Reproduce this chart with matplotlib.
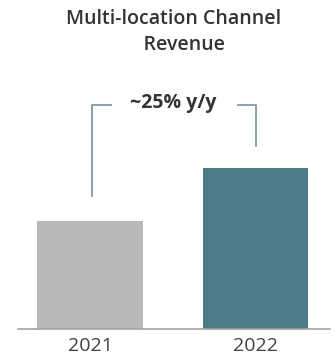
import matplotlib
matplotlib.use("Agg")
import matplotlib.pyplot as plt

years = ["2021", "2022"]
revenue = [1.0, 1.49]
bar_colors = ["#b8b8bb", "#4d7b87"]
growth_label = "~25% y/y"
title = "Multi-location Channel\n    Revenue"

plt.rcParams['font.family'] = ['Open Sans', 'DejaVu Sans']

W, H = 336, 358
fig = plt.figure(figsize=(W / 100, H / 100), dpi=100)
fig.patch.set_facecolor('white')

# axes placed in pixel terms: baseline at y=329, x from 18 to 330
ax = fig.add_axes([18 / W, (H - 329) / H, (330 - 18) / W, (329 - 60) / H])
ax.set_facecolor('none')

x = list(range(len(years)))
ax.bar(x, revenue, width=0.64, color=bar_colors, zorder=2)
ax.set_xlim(-0.435, 1.45)
ax.set_ylim(0, 269 / 108)

ax.set_xticks(x)
ax.set_xticklabels(years, fontsize=14, color='#404040')
ax.tick_params(axis='x', length=0, pad=6)
ax.set_yticks([])
for s in ['top', 'left', 'right']:
    ax.spines[s].set_visible(False)
ax.spines['bottom'].set_color('#a3a3a3')
ax.spines['bottom'].set_linewidth(1.2)

# growth bracket
bc = '#7e9ea6'
top_y = 2.074
ax.plot([0.01, 0.01, 0.133], [revenue[0] + 0.222, top_y, top_y],
        color=bc, lw=1.3, solid_capstyle='butt')
ax.plot([0.888, 1.003, 1.003], [top_y, top_y, revenue[1] + 0.195],
        color=bc, lw=1.3, solid_capstyle='butt')
ax.text(0.505, top_y + 0.02, growth_label, ha='center', va='center',
        fontsize=14, fontweight='bold', color='#333333')

fig.text(174 / W, 1 - 32 / H, title, ha='center', va='center',
         fontsize=14, fontweight='semibold', color='#333333',
         linespacing=1.4)

fig.savefig('out.png', dpi=100, facecolor='white')
